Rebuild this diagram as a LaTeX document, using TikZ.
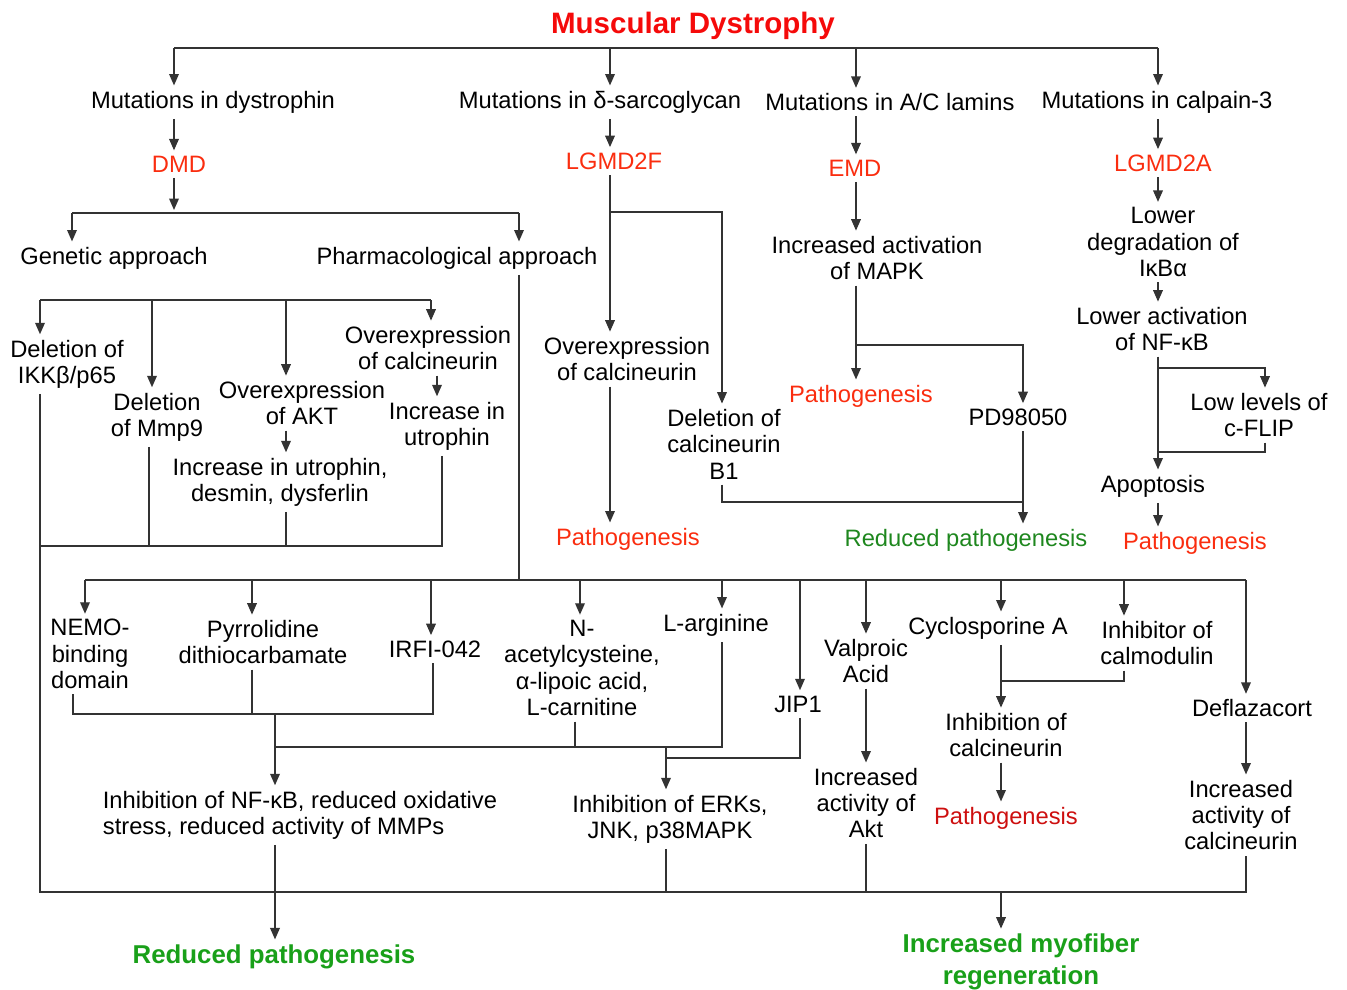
\documentclass[tikz,border=0pt]{standalone}
\usepackage{fontspec}
\setmainfont{Liberation Sans}
\usetikzlibrary{arrows.meta,positioning,calc}

\definecolor{titlered}{RGB}{245,10,10}
\definecolor{dzred}{RGB}{250,45,15}
\definecolor{darkred}{RGB}{205,15,15}
\definecolor{midgreen}{RGB}{30,135,30}
\definecolor{outgreen}{RGB}{25,160,25}

\tikzset{
  box/.style={inner sep=3pt, yshift=-1.2pt, align=center, font=\fontsize{13.5}{15}\selectfont},
  disease/.style={box, text=dzred},
  result/.style={inner sep=3pt, yshift=-1.2pt, align=center, text=outgreen,
    font=\fontsize{14.7}{17.5}\selectfont\bfseries},
  link/.style={draw=black!80, line width=0.75pt},
  arr/.style={link, -{Triangle[length=6.5pt,width=5.5pt]}},
}

\begin{document}
\begin{tikzpicture}[x=0.02cm, y=-0.02cm]
  \useasboundingbox (0,0) rectangle (1347,990);

  % title and the four mutations
  \node[inner sep=3pt, yshift=-1.5pt, text=titlered, font=\fontsize{16.8}{19}\selectfont\bfseries] (title) at (693,23) {Muscular Dystrophy};
  \node[box] (mdys) at (213,100) {Mutations in dystrophin};
  \node[box] (msg) at (600,100) {Mutations in δ-sarcoglycan};
  \node[box] (mlam) at (890,100) {Mutations in A/C lamins};
  \node[box] (mcal) at (1157,100) {Mutations in calpain-3};

  \node[disease] (dmd) at (179,162) {DMD};
  \node[disease] (lgf) at (614,159) {LGMD2F};
  \node[disease] (emd) at (855,166) {EMD};
  \node[disease] (lga) at (1163,161) {LGMD2A};

  % DMD branch
  \node[box] (gen) at (114,256) {Genetic approach};
  \node[box] (pharm) at (457,256) {Pharmacological approach};
  \node[box] (ikk) at (67,362) {Deletion of\\IKKβ/p65};
  \node[box] (mmp) at (157,415) {Deletion\\of Mmp9};
  \node[box] (akt) at (302,401) {Overexpression\\of AKT};
  \node[box] (ocn1) at (428,346) {Overexpression\\of calcineurin};
  \node[box] (utr) at (447,424) {Increase in\\utrophin};
  \node[box] (utr2) at (280,480) {Increase in utrophin,\\desmin, dysferlin};

  % LGMD2F and EMD branches
  \node[box] (ocn2) at (627,357) {Overexpression\\of calcineurin};
  \node[disease] (patho1) at (628,537) {Pathogenesis};
  \node[box] (delb) at (724,442) {Deletion of\\calcineurin\\B1};
  \node[box] (mapk) at (877,256) {Increased activation\\of MAPK};
  \node[disease] (patho2) at (861,394) {Pathogenesis};
  \node[box] (pd) at (1018,415) {PD98050};
  \node[box, text=midgreen] (redp1) at (966,538) {Reduced pathogenesis};

  % LGMD2A branch
  \node[box] (lowdeg) at (1163,240) {Lower\\degradation of\\IκBα};
  \node[box] (lowact) at (1162,327) {Lower activation\\of NF-κB};
  \node[box] (flip) at (1259,413) {Low levels of\\c-FLIP};
  \node[box] (apop) at (1153,484) {Apoptosis};
  \node[disease] (patho3) at (1195,541) {Pathogenesis};

  % drugs
  \node[box] (nemo) at (90,652) {NEMO-\\binding\\domain};
  \node[box] (pdtc) at (263,640) {Pyrrolidine\\dithiocarbamate};
  \node[box] (irfi) at (435,647) {IRFI-042};
  \node[box] (nac) at (582,666) {N-\\acetylcysteine,\\α-lipoic acid,\\L-carnitine};
  \node[box] (larg) at (716,623) {L-arginine};
  \node[box] (jip) at (798,702) {JIP1};
  \node[box] (valp) at (866,659) {Valproic\\Acid};
  \node[box] (cyc) at (988,626) {Cyclosporine A};
  \node[box] (calm) at (1157,641) {Inhibitor of\\calmodulin};
  \node[box] (defl) at (1252,706) {Deflazacort};

  \node[box, align=left] (nfkb) at (300,813) {Inhibition of NF-κB, reduced oxidative\\stress, reduced activity of MMPs};
  \node[box] (erk) at (670,817) {Inhibition of ERKs,\\JNK, p38MAPK};
  \node[box] (akt2) at (866,801) {Increased\\activity of\\Akt};
  \node[box] (incal) at (1006,733) {Inhibition of\\calcineurin};
  \node[box, text=darkred] (patho4) at (1006,816) {Pathogenesis};
  \node[box] (incact) at (1241,813) {Increased\\activity of\\calcineurin};

  \node[result] (redp2) at (274,955) {Reduced pathogenesis};
  \node[result, font=\fontsize{14.7}{18}\selectfont\bfseries] (regen) at (1021,960) {Increased myofiber\\regeneration};

  % top level
  \coordinate (tb1) at (174,48);
  \coordinate (tb2) at (610,48);
  \coordinate (tb3) at (856,48);
  \coordinate (tb4) at (1158,48);
  \draw[link] (tb1) -- (tb4);
  \draw[arr] (tb1) -- (tb1 |- mdys.north);
  \draw[arr] (tb2) -- (tb2 |- msg.north);
  \draw[arr] (tb3) -- (tb3 |- mlam.north);
  \draw[arr] (tb4) -- (tb4 |- mcal.north);
  \draw[arr] (tb1 |- mdys.south) -- (tb1 |- dmd.north);
  \draw[arr] (tb2 |- msg.south) -- (tb2 |- lgf.north);
  \draw[arr] (tb3 |- mlam.south) -- (tb3 |- emd.north);
  \draw[arr] (tb4 |- mcal.south) -- (tb4 |- lga.north);

  % DMD
  \coordinate (db) at (174,210);
  \coordinate (gb1) at (72,213);
  \coordinate (gb2) at (519,213);
  \draw[arr] (tb1 |- dmd.south) -- (db);
  \draw[link] (gb1) -- (gb2);
  \draw[arr] (gb1) -- (gb1 |- gen.north);
  \draw[arr] (gb2) -- (gb2 |- pharm.north);

  % genetic approach
  \coordinate (ga1) at (40,300);
  \coordinate (ga2) at (152,300);
  \coordinate (ga3) at (286,300);
  \coordinate (ga4) at (431,300);
  \draw[link] (ga1) -- (ga4);
  \draw[arr] (ga1) -- (ga1 |- ikk.north);
  \draw[arr] (ga2) -- (ga2 |- mmp.north);
  \draw[arr] (ga3) -- (ga3 |- akt.north);
  \draw[arr] (ga4) -- (ga4 |- ocn1.north);
  \draw[arr] (437,0 |- ocn1.south) -- (437,0 |- utr.north);
  \draw[arr] (ga3 |- akt.south) -- (ga3 |- utr2.north);
  \coordinate (gl1) at (40,546);
  \coordinate (gl4) at (442,546);
  \draw[link] (149,0 |- mmp.south) -- (149,546);
  \draw[link] (ga3 |- utr2.south) -- (286,546);
  \draw[link] (gl4 |- utr.south) -- (gl4) -- (gl1);

  % pharmacological approach
  \coordinate (pb0) at (519,580);
  \draw[link] (gb2 |- pharm.south) -- (pb0);
  \draw[link] (85,580) -- (1246,580);
  \draw[arr] (85,580) -- (85,0 |- nemo.north);
  \draw[arr] (252,580) -- (252,0 |- pdtc.north);
  \draw[arr] (431,580) -- (431,0 |- irfi.north);
  \draw[arr] (580,580) -- (580,0 |- nac.north);
  \draw[arr] (722,580) -- (722,0 |- larg.north);
  \draw[arr] (800,580) -- (800,0 |- jip.north);
  \draw[arr] (866,580) -- (866,0 |- valp.north);
  \draw[arr] (1001,580) -- (1001,0 |- cyc.north);
  \draw[arr] (1124,580) -- (1124,0 |- calm.north);
  \draw[arr] (1246,580) -- (1246,0 |- defl.north);

  % NF-kB side
  \coordinate (nb) at (275,714);
  \draw[link] (73,0 |- nemo.south) -- (73,714) -- (433,714) -- (433,0 |- irfi.south);
  \draw[link] (252,0 |- pdtc.south) -- (252,714);
  \draw[arr] (nb) -- (nb |- nfkb.north);
  \coordinate (eb) at (666,747);
  \draw[link] (575,0 |- nac.south) -- (575,747);
  \draw[link] (275,747) -- (722,747) -- (722,0 |- larg.south);
  \draw[arr] (eb) -- (eb |- erk.north);
  \draw[link] (666,758) -- (800,758) -- (800,0 |- jip.south);

  % right drugs
  \draw[arr] (866,0 |- valp.south) -- (866,0 |- akt2.north);
  \draw[arr] (1001,0 |- cyc.south) -- (1001,0 |- incal.north);
  \draw[link] (1124,0 |- calm.south) -- (1124,681) -- (1001,681);
  \draw[arr] (1001,0 |- incal.south) -- (1001,0 |- patho4.north);
  \draw[arr] (1246,0 |- defl.south) -- (1246,0 |- incact.north);

  % outcomes
  \draw[arr] (nb |- nfkb.south) -- (nb |- redp2.north);
  \coordinate (bb) at (1001,892);
  \draw[link] (40,0 |- ikk.south) -- (40,892) -- (1246,892) -- (1246,0 |- incact.south);
  \draw[link] (eb |- erk.south) -- (666,892);
  \draw[link] (866,0 |- akt2.south) -- (866,892);
  \draw[arr] (bb) -- (bb |- regen.north);

  % LGMD2F
  \coordinate (fb) at (610,212);
  \draw[arr] (tb2 |- lgf.south) -- (tb2 |- ocn2.north);
  \draw[arr] (fb) -- (722,212) -- (722,0 |- delb.north);
  \draw[arr] (tb2 |- ocn2.south) -- (tb2 |- patho1.north);
  \draw[link] (722,0 |- delb.south) -- (722,502) -- (1023,502);
  \draw[arr] (1023,0 |- pd.south) -- (1023,0 |- redp1.north);

  % EMD
  \draw[arr] (tb3 |- emd.south) -- (tb3 |- mapk.north);
  \draw[arr] (tb3 |- mapk.south) -- (tb3 |- patho2.north);
  \draw[arr] (856,345) -- (1023,345) -- (1023,0 |- pd.north);

  % LGMD2A
  \draw[arr] (tb4 |- lga.south) -- (tb4 |- lowdeg.north);
  \draw[arr] (tb4 |- lowdeg.south) -- (tb4 |- lowact.north);
  \draw[arr] (tb4 |- lowact.south) -- (tb4 |- apop.north);
  \draw[arr] (1158,368) -- (1265,368) -- (1265,0 |- flip.north);
  \draw[link] (1265,0 |- flip.south) -- (1265,452) -- (1158,452);
  \draw[arr] (tb4 |- apop.south) -- (tb4 |- patho3.north);
\end{tikzpicture}
\end{document}
